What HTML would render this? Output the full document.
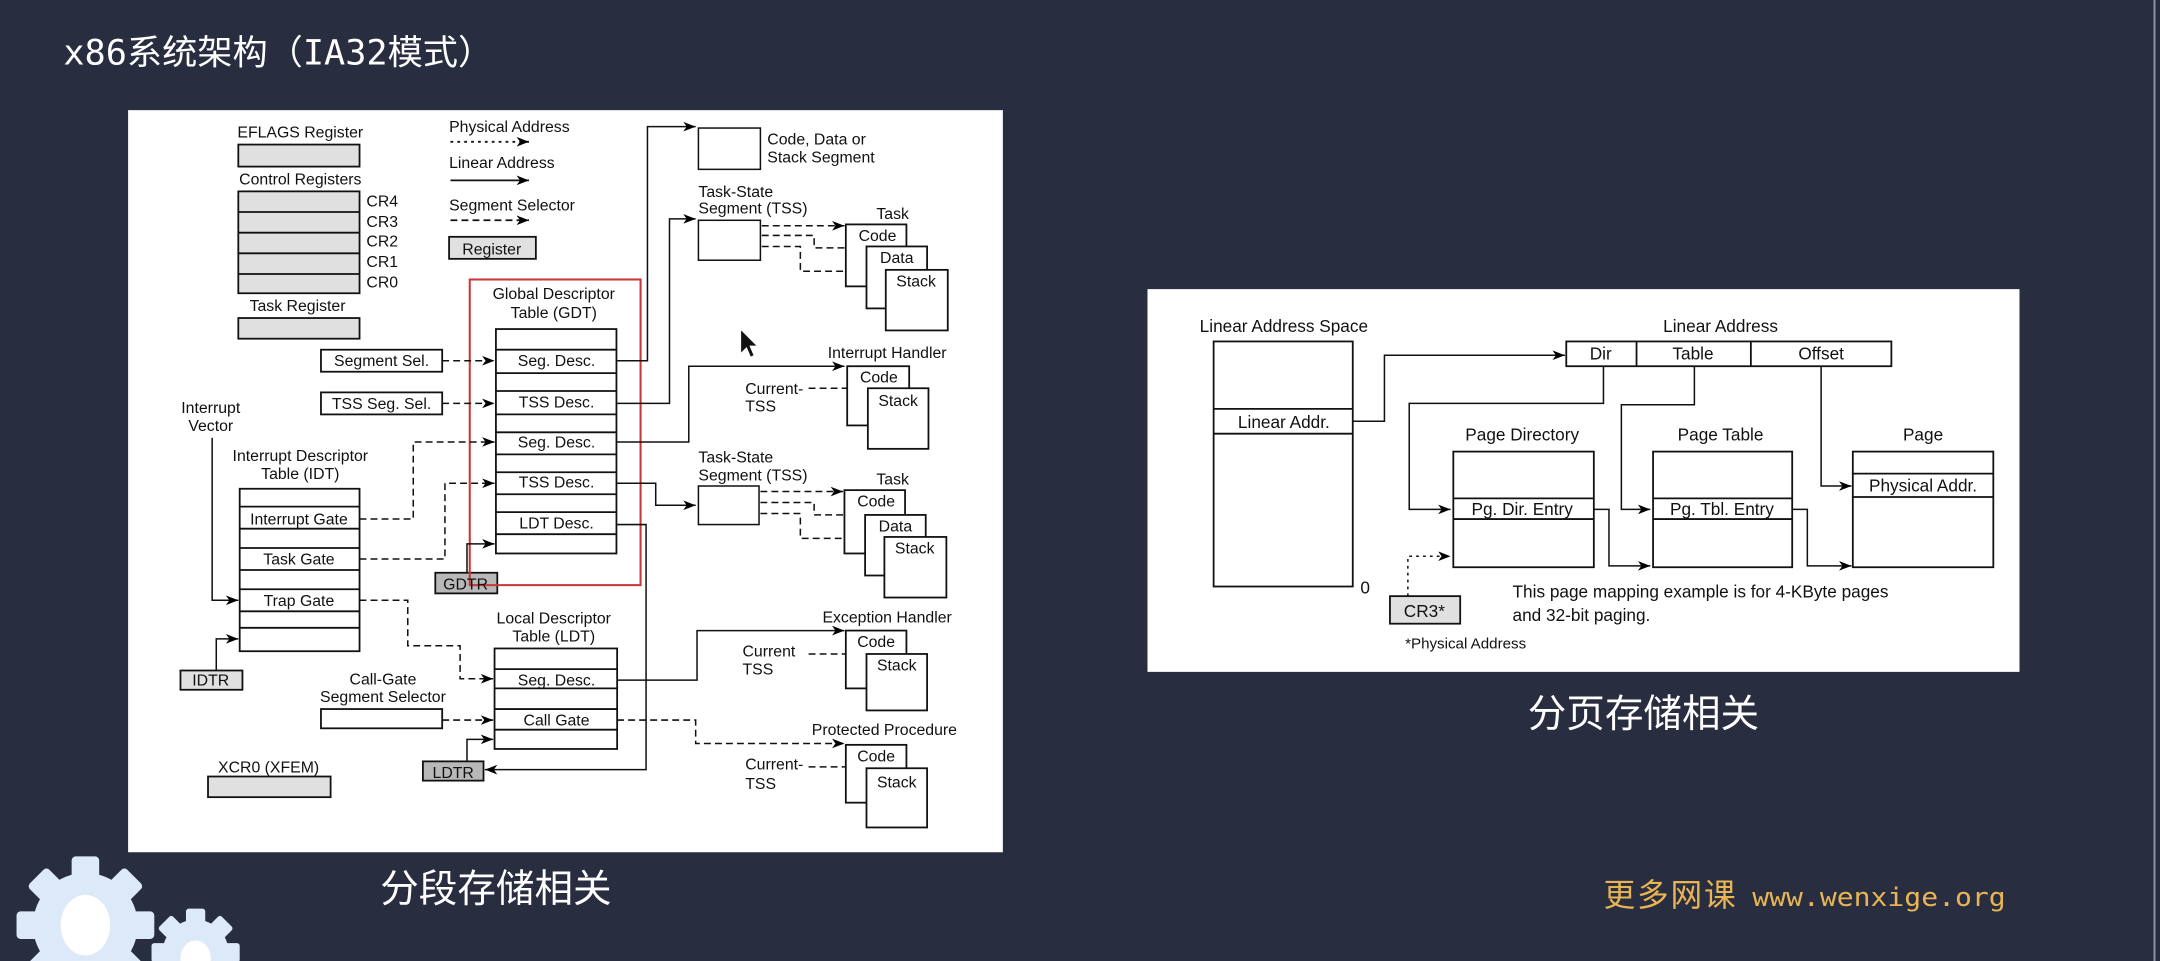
<!DOCTYPE html>
<html><head><meta charset="utf-8"><style>
html,body{margin:0;padding:0;background:#282d40;width:2160px;height:961px;overflow:hidden}
svg{display:block}
</style></head><body>
<svg width="2160" height="961" viewBox="0 0 1568 698" preserveAspectRatio="none" xmlns="http://www.w3.org/2000/svg" font-family="Liberation Sans, sans-serif">
<defs>
<marker id="a" markerWidth="9" markerHeight="7" refX="9" refY="3.5" orient="auto" markerUnits="userSpaceOnUse"><path d="M0,0 L9,3.5 L0,7 L2.5,3.5z" fill="#000"/></marker>
</defs>
<rect width="1568" height="698" fill="#282d40"/>
<line x1="1564" y1="0" x2="1564" y2="698" stroke="#8a8f9c" stroke-width="1.5"/>
<text x="46" y="47" font-family="DejaVu Sans Mono, Noto Sans CJK SC, monospace" font-size="25" textLength="312" lengthAdjust="spacingAndGlyphs" fill="#fff">x86系统架构（IA32模式）</text>

<!-- LEFT PANEL -->
<rect x="93" y="80" width="635" height="539" fill="#fff"/>
<g stroke="#111" stroke-width="1.3" fill="none">
<rect x="173" y="105" width="88" height="16" fill="#e0e0e0"/>
<rect x="173" y="139" width="88" height="74" fill="#e0e0e0"/>
<line x1="173" y1="154" x2="261" y2="154"/><line x1="173" y1="169" x2="261" y2="169"/><line x1="173" y1="184" x2="261" y2="184"/><line x1="173" y1="199" x2="261" y2="199"/>
<rect x="173" y="231" width="88" height="15" fill="#e0e0e0"/>
<rect x="326" y="172" width="63" height="16" fill="#e0e0e0"/>
<rect x="151" y="564" width="89" height="15" fill="#e0e0e0"/>
<line x1="327" y1="103" x2="384" y2="103" stroke-dasharray="2,3" marker-end="url(#a)"/>
<line x1="327" y1="131" x2="384" y2="131" marker-end="url(#a)"/>
<line x1="327" y1="160" x2="384" y2="160" stroke-dasharray="5,3" marker-end="url(#a)"/>
<rect x="360" y="239" width="87.5" height="163"/>
<path d="M360 254H447M360 271H447M360 284H447M360 301H447M360 314H447M360 330H447M360 343H447M360 359H447M360 372H447M360 388H447"/>
<rect x="233" y="254" width="88" height="16"/>
<rect x="233" y="285" width="88" height="16"/>
<rect x="233" y="515" width="88" height="14"/>
<rect x="174" y="355" width="87" height="118"/>
<path d="M174 368H261M174 384H261M174 398H261M174 414H261M174 428H261M174 444H261M174 456H261"/>
<rect x="359" y="471" width="89" height="73"/>
<path d="M359 486H448M359 500H448M359 515H448M359 530H448"/>
<rect x="316" y="416" width="45" height="15" fill="#b8b8b8"/>
<rect x="131" y="487" width="45" height="14" fill="#e0e0e0"/>
<rect x="307" y="553" width="44" height="14" fill="#b8b8b8"/>
</g>
<g font-size="11.5" fill="#111" stroke="none">
<text x="218" y="100" text-anchor="middle">EFLAGS Register</text>
<text x="218" y="134" text-anchor="middle">Control Registers</text>
<text x="216" y="226" text-anchor="middle">Task Register</text>
<text x="266" y="150">CR4</text><text x="266" y="165">CR3</text><text x="266" y="179">CR2</text><text x="266" y="194">CR1</text><text x="266" y="209">CR0</text>
<text x="326" y="96">Physical Address</text>
<text x="326" y="122">Linear Address</text>
<text x="326" y="153">Segment Selector</text>
<text x="357" y="185" text-anchor="middle">Register</text>
<text x="402" y="217" text-anchor="middle">Global Descriptor</text>
<text x="402" y="231" text-anchor="middle">Table (GDT)</text>
<text x="153" y="300" text-anchor="middle">Interrupt</text>
<text x="153" y="313" text-anchor="middle">Vector</text>
<text x="218" y="335" text-anchor="middle">Interrupt Descriptor</text>
<text x="218" y="348" text-anchor="middle">Table (IDT)</text>
<text x="402" y="453" text-anchor="middle">Local Descriptor</text>
<text x="402" y="466" text-anchor="middle">Table (LDT)</text>
<text x="278" y="497" text-anchor="middle">Call-Gate</text>
<text x="278" y="510" text-anchor="middle">Segment Selector</text>
<text x="195" y="561" text-anchor="middle">XCR0 (XFEM)</text>
<text x="557" y="105">Code, Data or</text>
<text x="557" y="118">Stack Segment</text>
<text x="507" y="143">Task-State</text><text x="507" y="155">Segment (TSS)</text>
<text x="507" y="336">Task-State</text><text x="507" y="349">Segment (TSS)</text>
<text x="648" y="159" text-anchor="middle">Task</text>
<text x="648" y="352" text-anchor="middle">Task</text>
<text x="644" y="260" text-anchor="middle">Interrupt Handler</text>
<text x="644" y="452" text-anchor="middle">Exception Handler</text>
<text x="642" y="534" text-anchor="middle">Protected Procedure</text>
<text x="541" y="286">Current-</text><text x="541" y="299">TSS</text>
<text x="539" y="477">Current</text><text x="539" y="490">TSS</text>
<text x="541" y="559">Current-</text><text x="541" y="573">TSS</text>
</g>
<rect x="341" y="203" width="124" height="222" fill="none" stroke="#c8383a" stroke-width="1.5"/>
<g font-size="11.5" fill="#111">
<text x="404" y="266" text-anchor="middle">Seg. Desc.</text>
<text x="404" y="296" text-anchor="middle">TSS Desc.</text>
<text x="404" y="325" text-anchor="middle">Seg. Desc.</text>
<text x="404" y="354" text-anchor="middle">TSS Desc.</text>
<text x="404" y="384" text-anchor="middle">LDT Desc.</text>
<text x="277" y="266" text-anchor="middle">Segment Sel.</text>
<text x="277" y="297" text-anchor="middle">TSS Seg. Sel.</text>
<text x="217" y="381" text-anchor="middle">Interrupt Gate</text>
<text x="217" y="410" text-anchor="middle">Task Gate</text>
<text x="217" y="440" text-anchor="middle">Trap Gate</text>
<text x="404" y="498" text-anchor="middle">Seg. Desc.</text>
<text x="404" y="527" text-anchor="middle">Call Gate</text>
<text x="338" y="428" text-anchor="middle">GDTR</text>
<text x="153" y="498" text-anchor="middle">IDTR</text>
<text x="329" y="565" text-anchor="middle">LDTR</text>
</g>

<g stroke="#111" stroke-width="1.1" fill="none">
<line x1="321" y1="262" x2="359" y2="262" stroke-dasharray="5,3" marker-end="url(#a)"/>
<line x1="321" y1="293" x2="359" y2="293" stroke-dasharray="5,3" marker-end="url(#a)"/>
<polyline points="261,377 300,377 300,321 359,321" stroke-dasharray="5,3" marker-end="url(#a)"/>
<polyline points="261,406 323,406 323,351 359,351" stroke-dasharray="5,3" marker-end="url(#a)"/>
<polyline points="261,436 296,436 296,469 334,469 334,493 358,493" stroke-dasharray="5,3" marker-end="url(#a)"/>
<line x1="321" y1="523" x2="358" y2="523" stroke-dasharray="5,3" marker-end="url(#a)"/>
<polyline points="154,318 154,436 173,436" marker-end="url(#a)"/>
<polyline points="157,487 157,464 173,464" marker-end="url(#a)"/>
<polyline points="339,416 339,395 359,395" marker-end="url(#a)"/>
<polyline points="339,553 339,537 358,537" marker-end="url(#a)"/>
<polyline points="448,381 469,381 469,559 352,559" marker-end="url(#a)"/>
<polyline points="448,262 470,262 470,92 505,92" marker-end="url(#a)"/>
<polyline points="448,293 486,293 486,159 505,159" marker-end="url(#a)"/>
<polyline points="448,321 500,321 500,266 613,266" marker-end="url(#a)"/>
<polyline points="448,351 476,351 476,367 505,367" marker-end="url(#a)"/>
<polyline points="448,494 506,494 506,458 613,458" marker-end="url(#a)"/>
<polyline points="448,523 505,523 505,540 613,540" stroke-dasharray="5,3" marker-end="url(#a)"/>
<rect x="507" y="93" width="45" height="30"/>
<rect x="507" y="160" width="45" height="29"/>
<rect x="507" y="353" width="44" height="28"/>
<line x1="553" y1="164" x2="613" y2="164" stroke-dasharray="5,3" marker-end="url(#a)"/>
<polyline points="553,171 591,171 591,180 628,180" stroke-dasharray="5,3" marker-end="url(#a)"/>
<polyline points="553,179 581,179 581,197 642,197" stroke-dasharray="5,3" marker-end="url(#a)"/>
<line x1="552" y1="357" x2="612" y2="357" stroke-dasharray="5,3" marker-end="url(#a)"/>
<polyline points="552,365 591,365 591,374 627,374" stroke-dasharray="5,3" marker-end="url(#a)"/>
<polyline points="552,373 581,373 581,391 641,391" stroke-dasharray="5,3" marker-end="url(#a)"/>
<line x1="587" y1="282" x2="628" y2="282" stroke-dasharray="5,3" marker-end="url(#a)"/>
<line x1="587" y1="475" x2="628" y2="475" stroke-dasharray="5,3" marker-end="url(#a)"/>
<line x1="587" y1="557" x2="628" y2="557" stroke-dasharray="5,3" marker-end="url(#a)"/>
</g>
<g stroke="#111" stroke-width="1.3" fill="#fff">
<rect x="614" y="163" width="44" height="45"/><rect x="629" y="179" width="44" height="45"/><rect x="643" y="196" width="45" height="44"/>
<rect x="613" y="356" width="44" height="46"/><rect x="628" y="374" width="44" height="44"/><rect x="642" y="390" width="45" height="44"/>
<rect x="615" y="266" width="45" height="43"/><rect x="630" y="282" width="44" height="44"/>
<rect x="614" y="458" width="44" height="42"/><rect x="629" y="475" width="44" height="41"/>
<rect x="614" y="541" width="44" height="42"/><rect x="629" y="558" width="44" height="43"/>
</g>
<g font-size="11.5" fill="#111">
<text x="637" y="175" text-anchor="middle">Code</text><text x="651" y="191" text-anchor="middle">Data</text><text x="665" y="208" text-anchor="middle">Stack</text>
<text x="636" y="368" text-anchor="middle">Code</text><text x="650" y="386" text-anchor="middle">Data</text><text x="664" y="402" text-anchor="middle">Stack</text>
<text x="638" y="278" text-anchor="middle">Code</text><text x="652" y="295" text-anchor="middle">Stack</text>
<text x="636" y="470" text-anchor="middle">Code</text><text x="651" y="487" text-anchor="middle">Stack</text>
<text x="636" y="553" text-anchor="middle">Code</text><text x="651" y="572" text-anchor="middle">Stack</text>
</g>
<path d="M538 240 L538 256 L542 252 L545 259 L547 258 L544 251 L549 251 Z" fill="#111"/>

<!-- RIGHT PANEL -->
<rect x="833" y="210" width="633" height="278" fill="#fff"/>
<g stroke="#111" stroke-width="1.3" fill="none">
<rect x="881" y="248" width="101" height="178"/>
<path d="M881 297H982M881 315H982"/>
<rect x="1137" y="248" width="236" height="18"/>
<path d="M1188 248V266M1271 248V266"/>
<rect x="1055" y="328" width="102" height="84"/><path d="M1055 362H1157M1055 377H1157"/>
<rect x="1200" y="328" width="101" height="84"/><path d="M1200 362H1301M1200 377H1301"/>
<rect x="1345" y="328" width="102" height="84"/><path d="M1345 344H1447M1345 361H1447"/>
<rect x="1009" y="433" width="51" height="20" fill="#e0e0e0"/>
</g>
<g stroke="#111" stroke-width="1.1" fill="none">
<polyline points="982,306 1005,306 1005,258 1136,258" marker-end="url(#a)"/>
<polyline points="1164,266 1164,293 1023,293 1023,370 1053,370" marker-end="url(#a)"/>
<polyline points="1230,266 1230,294 1177,294 1177,370 1198,370" marker-end="url(#a)"/>
<polyline points="1322,266 1322,353 1344,353" marker-end="url(#a)"/>
<polyline points="1157,370 1168,370 1168,411 1198,411" marker-end="url(#a)"/>
<polyline points="1301,370 1312,370 1312,411 1344,411" marker-end="url(#a)"/>
<polyline points="1022,433 1022,404 1053,404" stroke-dasharray="2,3" marker-end="url(#a)"/>
</g>
<g font-size="12.5" fill="#111">
<text x="932" y="241" text-anchor="middle">Linear Address Space</text>
<text x="1249" y="241" text-anchor="middle">Linear Address</text>
<text x="1162" y="261" text-anchor="middle">Dir</text>
<text x="1229" y="261" text-anchor="middle">Table</text>
<text x="1322" y="261" text-anchor="middle">Offset</text>
<text x="932" y="311" text-anchor="middle">Linear Addr.</text>
<text x="991" y="431" text-anchor="middle">0</text>
<text x="1105" y="320" text-anchor="middle">Page Directory</text>
<text x="1249" y="320" text-anchor="middle">Page Table</text>
<text x="1396" y="320" text-anchor="middle">Page</text>
<text x="1105" y="374" text-anchor="middle">Pg. Dir. Entry</text>
<text x="1250" y="374" text-anchor="middle">Pg. Tbl. Entry</text>
<text x="1396" y="357" text-anchor="middle">Physical Addr.</text>
<text x="1034" y="448" text-anchor="middle">CR3*</text>
<text x="1098" y="434">This page mapping example is for 4-KByte pages</text>
<text x="1098" y="451">and 32-bit paging.</text>
<text x="1020" y="471" font-size="11">*Physical Address</text>
</g>

<text x="360" y="655" text-anchor="middle" font-family="Noto Sans CJK SC, sans-serif" font-size="28" fill="#fff">分段存储相关</text>
<text x="1193" y="528" text-anchor="middle" font-family="Noto Sans CJK SC, sans-serif" font-size="28" fill="#fff">分页存储相关</text>
<text x="1164" y="658" font-family="Noto Sans CJK SC, sans-serif" font-size="23" textLength="96" fill="#e8b454">更多网课</text>
<text x="1272" y="658" font-family="DejaVu Sans Mono, monospace" font-size="19" textLength="184" lengthAdjust="spacingAndGlyphs" fill="#e8b454">www.wenxige.org</text>

<g fill="#dce9f8">
<circle cx="62" cy="672" r="38"/>
<g transform="translate(62,672)">
<rect x="-10" y="-50" width="20" height="100" rx="3"/>
<rect x="-10" y="-50" width="20" height="100" rx="3" transform="rotate(45)"/>
<rect x="-10" y="-50" width="20" height="100" rx="3" transform="rotate(90)"/>
<rect x="-10" y="-50" width="20" height="100" rx="3" transform="rotate(135)"/>
</g>
<circle cx="142" cy="692" r="24"/>
<g transform="translate(142,692)">
<rect x="-7" y="-32" width="14" height="64" rx="2"/>
<rect x="-7" y="-32" width="14" height="64" rx="2" transform="rotate(45)"/>
<rect x="-7" y="-32" width="14" height="64" rx="2" transform="rotate(90)"/>
<rect x="-7" y="-32" width="14" height="64" rx="2" transform="rotate(135)"/>
</g>
</g>
<ellipse cx="62" cy="672" rx="18" ry="22" fill="#fff"/>
<ellipse cx="142" cy="696" rx="11" ry="13" fill="#fff"/>
</svg>
</body></html>
